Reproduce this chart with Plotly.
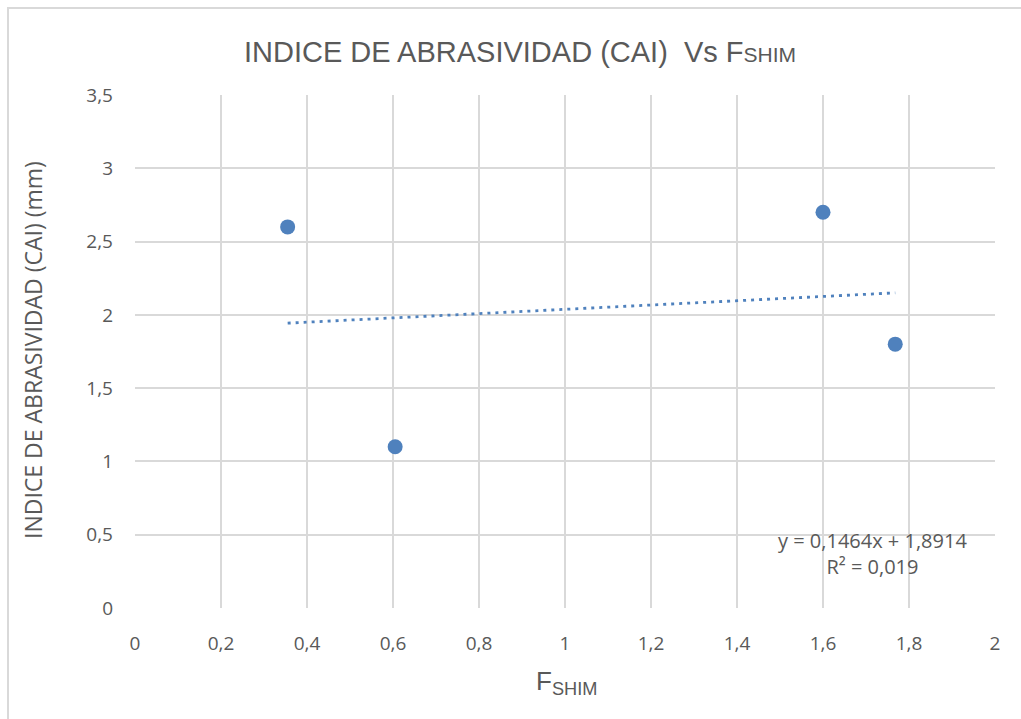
import numpy as np
import plotly.graph_objects as go

# Measured samples: shimmer factor vs Cerchar abrasivity index
f_shim = [0.355, 0.605, 1.600, 1.768]
cai_mm = [2.6, 1.1, 2.7, 1.8]

# Linear trend reported on the chart
slope = 0.1464
intercept = 1.8914
r_squared = 0.019

x_ticks = [0, 0.2, 0.4, 0.6, 0.8, 1, 1.2, 1.4, 1.6, 1.8, 2]
y_ticks = [0, 0.5, 1, 1.5, 2, 2.5, 3, 3.5]

BLUE = "#4f81bd"
TEXT = "#595959"
GRID = "#d9d9d9"
BODY_FONT = "Open Sans, Lato, Liberation Sans, sans-serif"
HEAD_FONT = "Liberation Sans, Arial, sans-serif"

trend_x = np.array([min(f_shim), max(f_shim)])
trend_y = slope * trend_x + intercept

fig = go.Figure()
fig.add_trace(go.Scatter(
    x=trend_x, y=trend_y, mode="lines",
    line=dict(color=BLUE, width=2.8, dash="3px,5px"),
    hoverinfo="skip", showlegend=False,
))
fig.add_trace(go.Scatter(
    x=f_shim, y=cai_mm, mode="markers",
    marker=dict(color=BLUE, size=15, line=dict(width=0)),
    showlegend=False,
))

W, H = 1021, 719
L, R, T, B = 135, 26, 95, 111
pw, ph = W - L - R, H - T - B

def px_to_paper_x(px):
    return (px - L) / pw

def px_to_paper_y(py):
    return (H - B - py) / ph

def fmt(v, nd):
    return f"{v:.{nd}f}".replace(".", ",")

fig.update_layout(
    width=W, height=H,
    margin=dict(l=L, r=R, t=T, b=B),
    paper_bgcolor="white", plot_bgcolor="white",
    separators=",.",
    title=dict(
        text="INDICE DE ABRASIVIDAD (CAI)  Vs F<span style='font-size:21px'>SHIM</span>",
        x=520 / W, xanchor="center", xref="container",
        y=1 - 52 / H, yanchor="middle", yref="container",
        font=dict(family=HEAD_FONT, size=29, color=TEXT),
    ),
    xaxis=dict(
        range=[0, 2], tickvals=x_ticks, showgrid=True, gridcolor=GRID, gridwidth=1.5,
        zeroline=False, showline=False, ticks="",
        tickfont=dict(family=BODY_FONT, size=19, color=TEXT),
        ticklabelstandoff=22,
    ),
    yaxis=dict(
        range=[0, 3.5], tickvals=y_ticks, showgrid=True, gridcolor=GRID, gridwidth=1.5,
        zeroline=False, showline=False, ticks="",
        tickfont=dict(family=BODY_FONT, size=19, color=TEXT),
        ticklabelstandoff=21,
    ),
    shapes=[
        # outer chart frame
        dict(type="rect", xref="paper", yref="paper",
             x0=px_to_paper_x(8), x1=px_to_paper_x(W + 20),
             y0=px_to_paper_y(H + 20), y1=px_to_paper_y(8),
             line=dict(color=GRID, width=2), layer="below"),
    ],
    annotations=[
        dict(text="INDICE DE ABRASIVIDAD (CAI) (mm)", textangle=-90,
             xref="paper", yref="paper",
             x=px_to_paper_x(33), y=px_to_paper_y(350),
             xanchor="center", yanchor="middle", showarrow=False,
             font=dict(family=BODY_FONT, size=23, color=TEXT)),
        dict(text="F<sub>SHIM</sub>",
             xref="paper", yref="paper",
             x=px_to_paper_x(566), y=px_to_paper_y(682),
             xanchor="center", yanchor="middle", showarrow=False,
             font=dict(family=HEAD_FONT, size=26, color=TEXT)),
        dict(text=f"y = {fmt(slope, 4)}x + {fmt(intercept, 4)}<br>R² = {fmt(r_squared, 3)}",
             xref="paper", yref="paper",
             x=px_to_paper_x(872), y=px_to_paper_y(553),
             xanchor="center", yanchor="middle", showarrow=False, align="center",
             font=dict(family=BODY_FONT, size=20, color=TEXT)),
    ],
)

fig.write_html("out.html")
